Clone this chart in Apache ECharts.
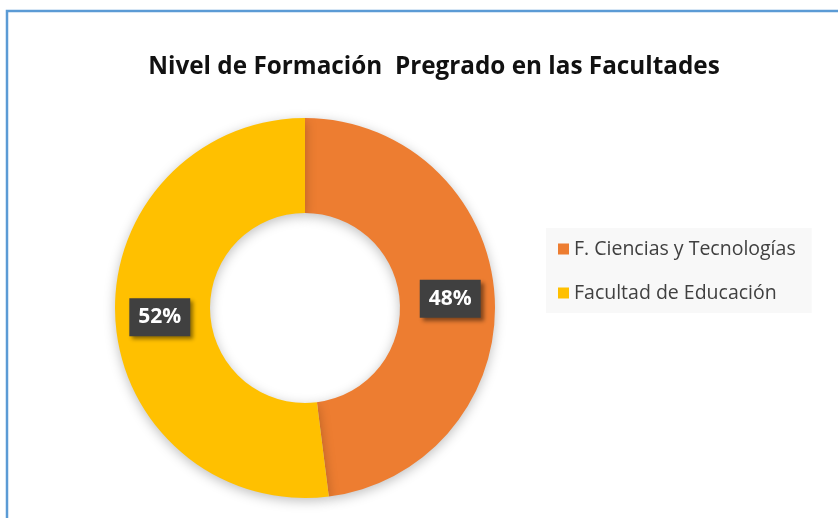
<!DOCTYPE html>
<html lang="es">
<head>
    <meta charset="UTF-8">
    <title>Nivel de Formación Pregrado</title>
    <script type="text/javascript" src="https://cdn.jsdelivr.net/npm/echarts@6/dist/echarts.min.js"></script>
    <style>
        body{
            margin: 0;
            background: #fff;
        }
        #main{
            width: 838px;
            height: 518px;
        }
    </style>
</head>
<body>
<div id="main"></div>
<script>
    // datos
    var categories = ['F. Ciencias y Tecnologías', 'Facultad de Educación'];
    var values = [48, 52];
    var colors = ['#ED7D31', '#FFC000'];

    var chart = echarts.init(document.getElementById('main'));

    var pieData = [];
    for (var i = 0; i < categories.length; i++) {
        pieData.push({name: categories[i], value: values[i], itemStyle: {color: colors[i]}});
    }

    var option = {
        animation: false,
        backgroundColor: '#fff',
        title: {
            text: 'Nivel de Formación  Pregrado en las Facultades',
            left: 429,
            top: 50,
            textAlign: 'center',
            textStyle: {
                fontFamily: 'Open Sans',
                fontWeight: 'bold',
                fontSize: 24.3,
                color: '#111'
            }
        },
        legend: {
            orient: 'vertical',
            left: 546,
            top: 228,
            backgroundColor: '#f8f8f8',
            padding: [10, 16, 9, 12],
            icon: 'rect',
            itemWidth: 11,
            itemHeight: 11,
            itemGap: 22,
            textStyle: {
                fontFamily: 'Open Sans',
                fontSize: 19.5,
                lineHeight: 22,
                color: '#404040'
            },
            data: categories
        },
        // borde azul del gráfico
        graphic: [{
            type: 'rect',
            shape: {x: 7, y: 11, width: 900, height: 600},
            style: {fill: 'none', stroke: '#5B9BD5', lineWidth: 2.5}
        }],
        series: [{
            type: 'pie',
            center: [305, 308],
            radius: [95, 190],
            startAngle: 90,
            clockwise: true,
            label: {
                show: true,
                position: 'inside',
                formatter: '{d}%',
                fontFamily: 'Open Sans',
                fontWeight: 'bold',
                fontSize: 21,
                color: '#fff',
                backgroundColor: '#404040',
                padding: [10, 9, 7, 9],
                shadowColor: 'rgba(0,0,0,0.45)',
                shadowBlur: 4,
                shadowOffsetX: 3,
                shadowOffsetY: 3
            },
            labelLine: {show: false},
            itemStyle: {
                shadowColor: 'rgba(0,0,0,0.25)',
                shadowBlur: 12,
                shadowOffsetY: 3
            },
            emphasis: {disabled: true},
            data: pieData
        }]
    };

    chart.setOption(option);
</script>
</body>
</html>
